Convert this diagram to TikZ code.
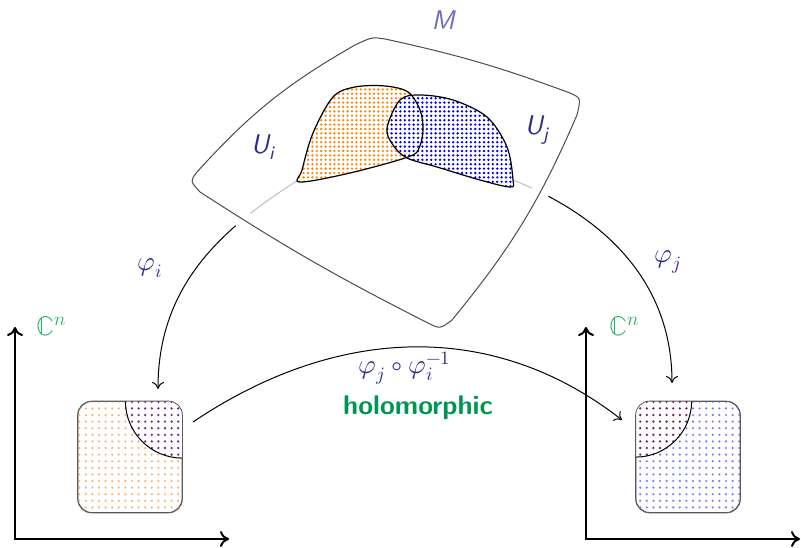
\documentclass[tikz,border=0pt]{standalone}
\usepackage{amsmath}
\usepackage{unicode-math}
\usepackage{xcolor}
\usepackage{tikz}
\usetikzlibrary{positioning,calc,arrows.meta,patterns.meta}
\definecolor{labelblue}{RGB}{45,45,140}
\definecolor{mlabel}{RGB}{110,110,185}
\definecolor{cgreen}{RGB}{40,175,100}
\definecolor{holo}{RGB}{0,150,80}
\definecolor{uorange}{RGB}{255,135,0}
\definecolor{ublue}{RGB}{0,0,240}
\definecolor{lorange}{RGB}{255,175,100}
\definecolor{lblue}{RGB}{120,120,255}
\definecolor{lpurple}{RGB}{110,45,145}
\definecolor{lmaroon}{RGB}{120,30,80}
\newcommand{\sfi}[1]{\textsf{\slshape #1}}
% outlines of the manifold and the two open sets
\newcommand{\manifoldpath}{(200,355) .. controls (190,366) .. (197,375)
  to[bend left=9] (355,502) .. controls (372,510) .. (385,508)
  to[bend left=4] (570,454) .. controls (581,449) .. (577,432)
  to[bend left=8] (452,227) .. controls (440,218) .. (428,224)
  to[bend left=3] cycle}
\newcommand{\uipath}{plot[smooth cycle, tension=0.55] coordinates {
  (300,365) (302,377) (313,414) (333,450) (355,460) (385,461) (408,455)
  (420,437) (423,417) (419,399) (408,390) (350,374)}}
\newcommand{\ujpath}{plot[smooth cycle, tension=0.55] coordinates {
  (387,419) (400,447) (420,452) (453,447) (487,430) (507,400) (513,367)
  (510,360) (480,367) (437,380) (407,389) (393,402)}}

\begin{document}
\begin{tikzpicture}[x=0.5pt, y=0.5pt,
  every node/.style={font=\sffamily\fontsize{13.5}{16}\selectfont},
  chart/.style={draw=black!65, rounded corners=7pt, minimum width=52pt,
                minimum height=55.5pt, inner sep=0pt},
  maparrow/.style={-{Computer Modern Rightarrow[length=3.5pt,width=6pt]}, line width=0.5pt},
  axisarrow/.style={{Computer Modern Rightarrow[length=4.5pt,width=8pt]}-{Computer Modern Rightarrow[length=4.5pt,width=8pt]}, line width=1pt},
  lbl/.style={text=labelblue},
  cn/.style={text=cgreen}
]
  \useasboundingbox (0,0) rectangle (801,547);

  % axes
  \coordinate (oi) at (15,8);
  \coordinate (yi) at (15,220);
  \coordinate (xi) at (229,8);
  \coordinate (oj) at (586,8);
  \coordinate (yj) at (586,220);
  \coordinate (xj) at (800,8);
  \draw[axisarrow] (yi) -- (oi) -- (xi);
  \draw[axisarrow] (yj) -- (oj) -- (xj);
  \node[cn] (cni) at (52,221) {$\mathbb{C}^n$};
  \node[cn] (cnj) at (625,221) {$\mathbb{C}^n$};

  % charts phi_i and phi_j
  \coordinate (si) at (300,368);
  \coordinate (ti) at (158,158);
  \coordinate (sj) at (500,372);
  \coordinate (tj) at (672,164);
  \draw[maparrow] (si) to[out=212,in=90] (ti);
  \draw[maparrow] (sj) to[out=-20,in=90] (tj);

  % the manifold
  \fill[white, opacity=0.75] \manifoldpath;
  \draw[white, line width=9pt] \manifoldpath;
  \draw[black!70, line width=0.5pt] \manifoldpath;
  \node[text=mlabel] (mlab) at (443,527) {$\sfi{M}$};

  % the open sets
  \fill[white] \uipath;
  \fill[pattern={Dots[distance=2.2pt,radius=0.65pt]}, pattern color=uorange] \uipath;
  \fill[white] \ujpath;
  \fill[pattern={Dots[distance=2.2pt,radius=0.65pt]}, pattern color=ublue] \ujpath;
  \draw[line width=0.6pt] \uipath;
  \draw[line width=0.6pt] \ujpath;
  \node[lbl] (uilab) at (263,400) {$\sfi{U}_{\sfi{i}}$};
  \node[lbl] (ujlab) at (537,417) {$\sfi{U}_{\sfi{j}}$};
  \node[lbl] (phii) at (150,279) {$\varphi_i$};
  \node[lbl] (phij) at (668,285) {$\varphi_j$};

  % images in C^n
  \node[chart] (Vi) at (130,90) {};
  \node[chart] (Vj) at (688,90) {};
  \begin{scope}
    \clip[rounded corners=7pt] (Vi.south west) rectangle (Vi.north east);
    \fill[pattern={Dots[distance=3.3pt,radius=0.6pt]}, pattern color=lorange]
      (Vi.south west) rectangle (Vi.north east);
    \fill[white] (Vi.north east) circle[radius=57];
    \fill[pattern={Dots[distance=3.3pt,radius=0.65pt]}, pattern color=lpurple]
      (Vi.north east) circle[radius=57];
    \draw[line width=0.5pt] (Vi.north east) circle[radius=57];
  \end{scope}
  \begin{scope}
    \clip[rounded corners=7pt] (Vj.south west) rectangle (Vj.north east);
    \fill[pattern={Dots[distance=3.3pt,radius=0.6pt]}, pattern color=lblue]
      (Vj.south west) rectangle (Vj.north east);
    \fill[white] (Vj.north west) circle[radius=56];
    \fill[pattern={Dots[distance=3.3pt,radius=0.65pt]}, pattern color=lmaroon]
      (Vj.north west) circle[radius=56];
    \draw[line width=0.5pt] (Vj.north west) circle[radius=56];
  \end{scope}
  \draw[black!65, rounded corners=7pt] (Vi.south west) rectangle (Vi.north east);
  \draw[black!65, rounded corners=7pt] (Vj.south west) rectangle (Vj.north east);

  % transition map
  \coordinate (hs) at (193,125);
  \coordinate (ht) at (622,127);
  \draw[maparrow] (hs) to[out=34,in=142] (ht);
  \node[lbl, inner sep=1pt] (comp) at (405,179) {$\varphi_j\circ\varphi_i^{-1}$};
  \node[text=holo, inner sep=1pt, font=\sffamily\bfseries\fontsize{13.5}{16}\selectfont] (hol) at (418,139) {holomorphic};
\end{tikzpicture}
\end{document}
